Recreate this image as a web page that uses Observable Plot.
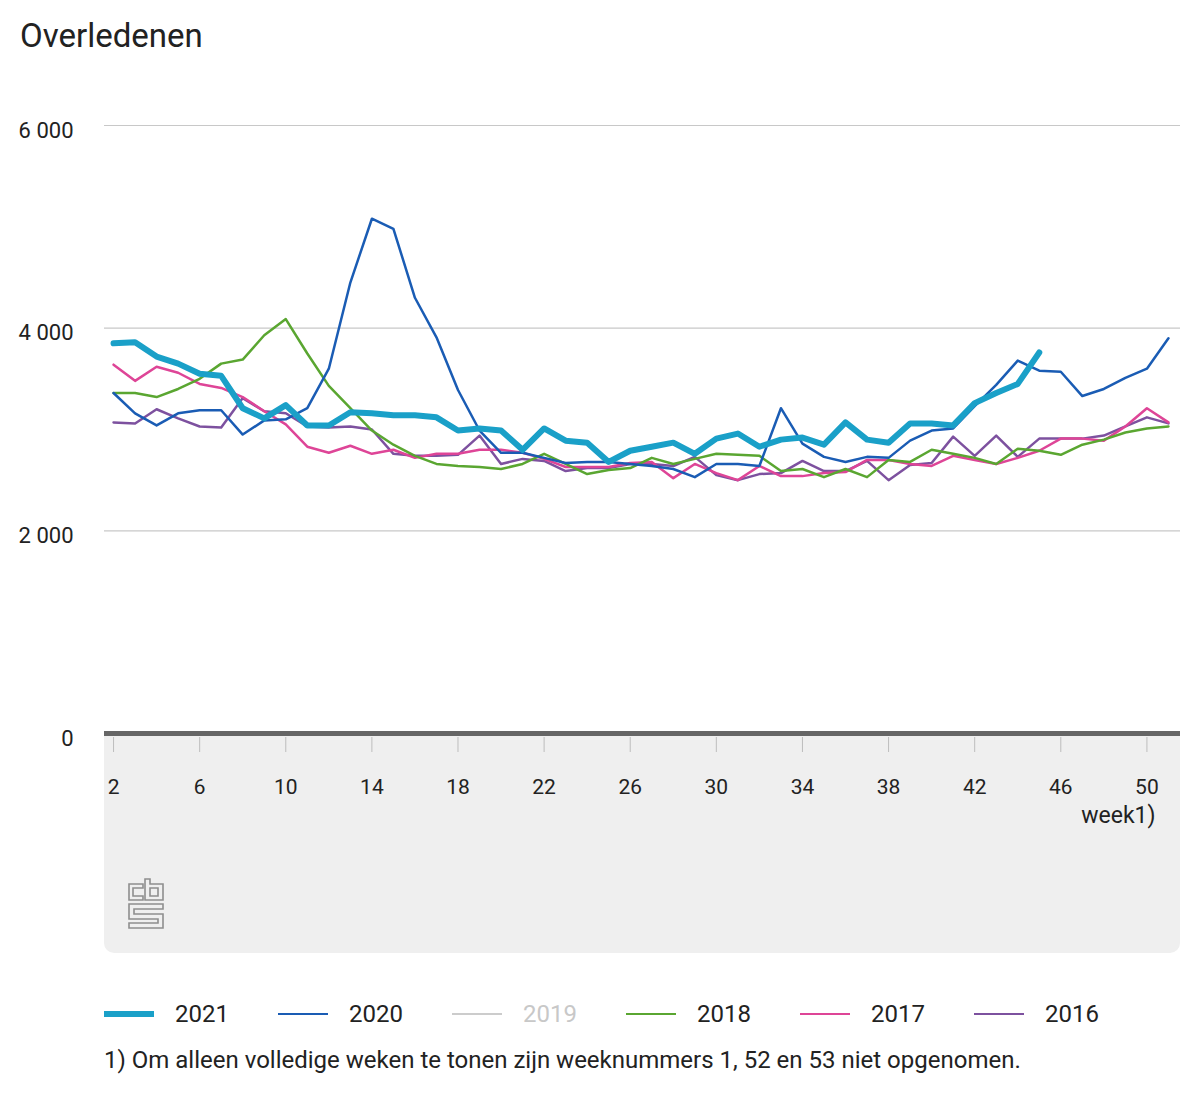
<!DOCTYPE html>
<html>
<head>
<meta charset="utf-8">
<script src="https://cdn.jsdelivr.net/npm/d3@7"></script>
<script src="https://cdn.jsdelivr.net/npm/@observablehq/plot@0.6"></script>
<style>
  body { margin: 0; background: #fff; font-family: Roboto, "Noto Sans", sans-serif; color: #222; }
  #wrap { position: relative; width: 1200px; height: 1100px; }
  #title { position: absolute; left: 20px; top: 19px; font-size: 33px; line-height: 33px; }
  #panel { position: absolute; left: 104px; top: 735px; width: 1076px; height: 218px; background: #efefef; border-radius: 0 0 10px 10px; }
  #logo { position: absolute; left: 127px; top: 878px; }
  #chart { position: absolute; left: 0; top: 70px; }
  .leg { position: absolute; top: 1000px; height: 28px; display: flex; align-items: center; font-size: 24px; }
  .sw { width: 50px; margin-right: 21px; }
  #note { position: absolute; left: 104px; top: 1045px; font-size: 24px; line-height: 30px; }
</style>
</head>
<body>
<div id="wrap">
  <div id="title">Overledenen</div>
  <div id="panel"></div>
  <svg id="logo" width="38" height="52" viewBox="0 0 38 52">
    <g fill="none" stroke="#8e8e8e" stroke-width="1.6">
      <path d="M16 6 H2 V22 H16 V18 H6 V10 H16 Z"/>
      <path d="M18 1 H23 V6 H36 V22 H18 Z"/>
      <path d="M23 10 H31 V18 H23 Z"/>
      <path d="M2 26 H36 V31 H7 V36 H36 V50 H2 V45 H31 V41 H2 Z"/>
    </g>
  </svg>
  <div id="chart"></div>
  <div id="legend"></div>
  <div id="note">1) Om alleen volledige weken te tonen zijn weeknummers 1, 52 en 53 niet opgenomen.</div>
</div>
<script>
// Week numbers (x categories) and tick labels
const weeks = d3.range(2, 52);
const xTicks = [2, 6, 10, 14, 18, 22, 26, 30, 34, 38, 42, 46, 50];
const yTicks = [0, 2000, 4000, 6000];

// Series values (weekly deaths), starting at week 2
const v2021 = [3850,3860,3720,3650,3550,3530,3210,3110,3240,3040,3040,3170,3160,3140,3140,3120,2990,3010,2990,2800,3010,2890,2870,2680,2790,2830,2870,2760,2910,2960,2830,2900,2920,2850,3070,2900,2870,3060,3060,3040,3260,3360,3450,3760];
const v2020 = [3360,3160,3040,3160,3190,3190,2950,3090,3100,3210,3600,4450,5080,4980,4300,3910,3390,2990,2770,2770,2720,2670,2680,2680,2660,2640,2610,2530,2660,2660,2640,3210,2860,2730,2680,2730,2720,2890,2990,3010,3230,3440,3680,3580,3570,3330,3400,3510,3600,3900];
const v2018 = [3360,3360,3320,3400,3500,3650,3690,3930,4090,3750,3430,3210,2990,2850,2740,2660,2640,2630,2610,2660,2760,2660,2560,2600,2620,2720,2660,2710,2760,2750,2740,2590,2610,2530,2610,2530,2700,2680,2800,2760,2720,2660,2810,2790,2750,2850,2900,2970,3010,3030];
const v2017 = [3640,3480,3620,3560,3450,3410,3320,3180,3050,2830,2770,2840,2760,2800,2720,2760,2760,2800,2800,2770,2710,2630,2630,2630,2670,2680,2520,2660,2570,2500,2640,2540,2540,2570,2580,2700,2700,2660,2640,2740,2700,2660,2720,2790,2910,2910,2890,3030,3210,3070];
const v2016 = [3070,3060,3200,3110,3030,3020,3310,3180,3160,3030,3020,3030,3000,2760,2740,2740,2750,2940,2660,2710,2690,2590,2620,2620,2660,2660,2640,2730,2550,2500,2560,2570,2690,2590,2590,2690,2500,2650,2670,2930,2740,2940,2730,2910,2910,2910,2940,3030,3120,3060];

const years = ["2021", "2020", "2019", "2018", "2017", "2016"];
const colors = {"2021": "#1aa0c8", "2020": "#1a5cb4", "2019": "#cccccc", "2018": "#5aa631", "2017": "#de4597", "2016": "#7d519f"};
const widths = {"2021": 6, "2020": 2.5, "2019": 2.5, "2018": 2.5, "2017": 2.5, "2016": 2.5};

const toRows = (arr) => arr.map((v, i) => ({week: weeks[i], value: v}));
const drawOrder = [["2016", v2016], ["2017", v2017], ["2018", v2018], ["2020", v2020], ["2021", v2021]];

const fmt = d => d3.format(",")(d).replace(/,/g, " ");

const chart = Plot.plot({
  width: 1200,
  height: 890,
  marginLeft: 104,
  marginRight: 20,
  marginTop: 55,
  marginBottom: 227,
  style: {background: "transparent", fontFamily: "Roboto, sans-serif", color: "#222", fontSize: "20px"},
  x: {domain: [1.58, 51.56]},
  y: {domain: [0, 6000]},
  marks: [
    Plot.gridY(yTicks.filter(d => d > 0), {stroke: "#c8c8c8", strokeOpacity: 1, strokeWidth: 1.2}),
    Plot.axisY({ticks: yTicks, tickSize: 0, tickPadding: 31, dy: 5, tickFormat: fmt, fontSize: 22, label: null}),
    Plot.ruleY([0], {stroke: "#666", strokeWidth: 5}),
    Plot.axisX({ticks: xTicks, tickSize: 15, tickPadding: 27, dy: 4, stroke: "#bdbdbd", fontSize: 21, label: null, tickFormat: d => String(d)}),
    Plot.text(["week1)"], {frameAnchor: "bottom-right", dx: -25, dy: 89, textAnchor: "end", fontSize: 23, fill: "#222"}),
    ...drawOrder.map(([y, arr]) => Plot.line(toRows(arr), {x: "week", y: "value", stroke: colors[y], strokeWidth: widths[y], strokeLinejoin: "round"}))
  ]
});
document.getElementById("chart").appendChild(chart);

// Legend
const legend = document.getElementById("legend");
years.forEach((y, i) => {
  const item = document.createElement("div");
  item.className = "leg";
  item.style.left = (104 + i * 174) + "px";
  const sw = document.createElement("div");
  sw.className = "sw";
  sw.style.height = widths[y] + "px";
  sw.style.background = colors[y];
  const t = document.createElement("span");
  t.textContent = y;
  if (y === "2019") t.style.color = "#c8c8c8";
  item.appendChild(sw);
  item.appendChild(t);
  legend.appendChild(item);
});
</script>
</body>
</html>
